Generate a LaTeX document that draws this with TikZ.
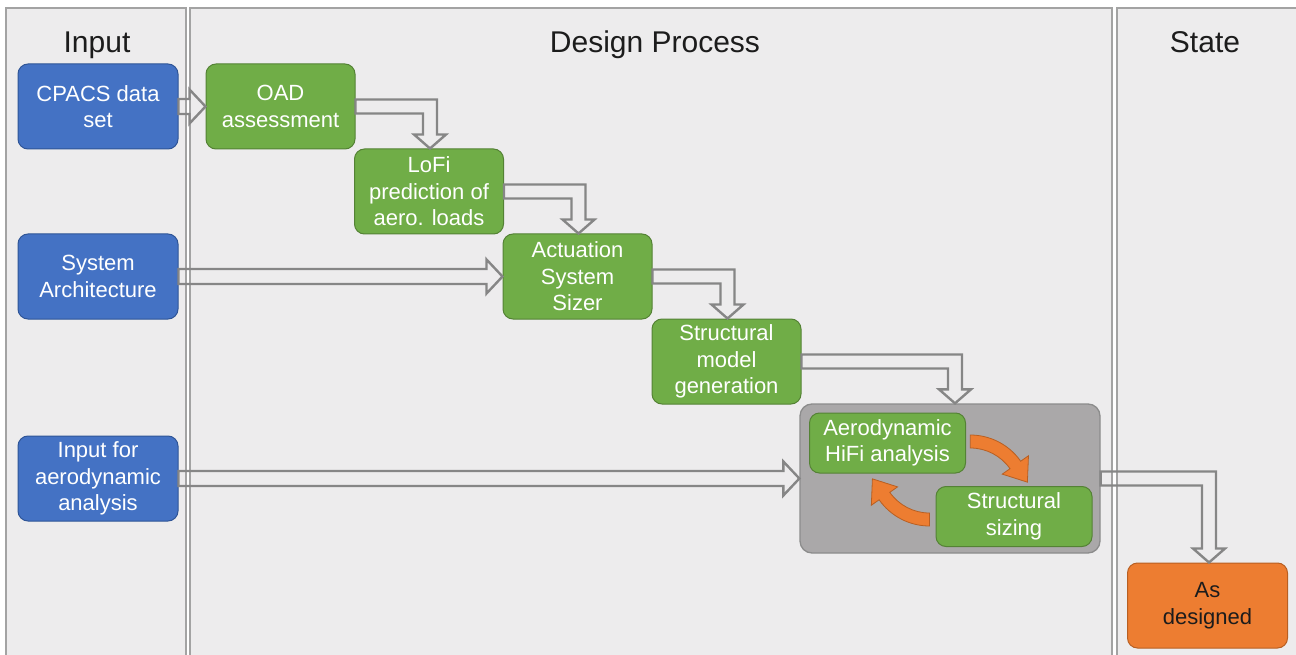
\documentclass[tikz,border=0pt]{standalone}
\usepackage{fontspec}
\setmainfont{Liberation Sans}
\usetikzlibrary{calc}

\definecolor{panelfill}{HTML}{EDECED}
\definecolor{panelline}{HTML}{A3A3A3}
\definecolor{inblue}{HTML}{4472C4}
\definecolor{inblueline}{HTML}{2F5597}
\definecolor{procgreen}{HTML}{70AD47}
\definecolor{procgreenline}{HTML}{548235}
\definecolor{stateorange}{HTML}{ED7D31}
\definecolor{stateorangeline}{HTML}{B85F22}
\definecolor{loopgray}{HTML}{AAA8A9}
\definecolor{looplinegray}{HTML}{8C8C8C}
\definecolor{flowgray}{HTML}{868686}
\definecolor{titleink}{HTML}{1C1C1C}

\tikzset{
  panel/.style={draw=panelline, line width=1.3pt, fill=panelfill},
  paneltitle/.style={anchor=base, text=titleink, font=\fontsize{30}{36}\selectfont},
  box/.style={rounded corners=10pt, align=center, inner sep=0pt,
    line width=1pt, font=\fontsize{22}{26.5}\selectfont},
  inputbox/.style={box, fill=inblue, draw=inblueline, text=white,
    minimum width=160pt, minimum height=85pt},
  procbox/.style={box, fill=procgreen, draw=procgreenline, text=white,
    minimum width=149pt, minimum height=85pt},
  innerbox/.style={box, fill=procgreen, draw=procgreenline, text=white,
    minimum width=156pt, minimum height=60pt},
  loopbox/.style={rounded corners=12pt, fill=loopgray, draw=looplinegray,
    line width=1.3pt, minimum width=300pt, minimum height=149pt},
  statebox/.style={box, fill=stateorange, draw=stateorangeline, text=titleink,
    minimum width=160pt, minimum height=85pt},
  flow/.style={draw=flowgray, line width=2.4pt, line join=miter},
  loopflow/.style={fill=stateorange, draw=stateorangeline, line width=0.8pt, line join=miter}
}

% hollow straight block arrow from the east side of #1 to the west side of #2
\newcommand{\straightflow}[2]{%
  \draw[flow] let \p1=(#1.east), \p2=(#2.west) in
    (\x1,\y1+7.5pt) -- (\x2-16pt,\y1+7.5pt) -- (\x2-16pt,\y1+17pt) -- (\x2,\y1)
    -- (\x2-16pt,\y1-17pt) -- (\x2-16pt,\y1-7.5pt) -- (\x1,\y1-7.5pt) -- cycle;}

% hollow bent block arrow: east side of #1, then down onto the top of #2 (x shift #3)
\newcommand{\bentflow}[3]{%
  \draw[flow] let \p1=(#1.east), \p2=($(#2.north)+(#3,0)$) in
    (\x1,\y1+7pt) -- (\x2+7pt,\y1+7pt) -- (\x2+7pt,\y2+14pt) -- (\x2+16pt,\y2+14pt)
    -- (\x2,\y2) -- (\x2-16pt,\y2+14pt) -- (\x2-7pt,\y2+14pt) -- (\x2-7pt,\y1-7pt)
    -- (\x1,\y1-7pt) -- cycle;}

% curved block arrow round centre #1, from angle #2 to angle #3, tip direction #4
\newcommand{\iterflow}[4]{%
  \draw[loopflow] ($(#1)+(#2:61.5)$) arc[start angle=#2, end angle=#3, radius=61.5]
    -- ($(#1)+(#3:71)$) -- ($(#1)+(#3:55)+(#4:21)$) -- ($(#1)+(#3:39)$)
    -- ($(#1)+(#3:48.5)$) arc[start angle=#3, end angle=#2, radius=48.5] -- cycle;}

\begin{document}
\begin{tikzpicture}[x=1pt, y=1pt]
  \useasboundingbox (0,0) rectangle (1296,-655);
  \clip (0,0) rectangle (1296,-655);
  \fill[white] (0,0) rectangle (1296,-655);

  % swim lanes
  \draw[panel] (6,-8) rectangle (186,-670);
  \draw[panel] (190,-8) rectangle (1112,-670);
  \draw[panel] (1117,-8) rectangle (1310,-670);
  \node[paneltitle] (tin)    at (97,-53)  {Input};
  \node[paneltitle] (tproc)  at (655,-53) {Design Process};
  \node[paneltitle] (tstate) at (1205,-53) {State};

  % inputs
  \node[inputbox] (cpacs)   at (98,-106.5) {CPACS data\\set};
  \node[inputbox] (sysarch) at (98,-276.5) {System\\Architecture};
  \node[inputbox] (aeroin)  at (98,-478.5) {Input for\\aerodynamic\\analysis};

  % design chain
  \node[procbox] (oad)  at (280.5,-106.5) {OAD\\assessment};
  \node[procbox] (lofi) at (429,-191.5)   {LoFi\\prediction of\\aero. loads};
  \node[procbox] (act)  at (577.5,-276.5) {Actuation\\System\\Sizer};
  \node[procbox] (smg)  at (726.5,-361.5) {Structural\\model\\generation};

  % aero-structural loop
  \node[loopbox] (loop) at (950,-478.5) {};
  \node[innerbox] (hifi)   at (887.5,-443)  {Aerodynamic\\HiFi analysis};
  \node[innerbox] (sizing) at (1014,-516.5) {Structural\\sizing};

  % result
  \node[statebox] (asdes) at (1207.5,-605.5) {As\\designed};

  % connectors
  \straightflow{cpacs}{oad}
  \straightflow{sysarch}{act}
  \straightflow{aeroin}{loop}
  \bentflow{oad}{lofi}{1}
  \bentflow{lofi}{act}{1}
  \bentflow{act}{smg}{1}
  \bentflow{smg}{loop}{5}
  \bentflow{loop}{asdes}{1.5}

  % iteration arrows inside the loop
  \coordinate (c1) at ($(hifi.east)+(4.3,-53.5)$);
  \coordinate (c2) at ($(sizing.west)+(-6,52)$);
  \iterflow{c1}{90}{35}{-55}
  \iterflow{c2}{270}{215}{125}
\end{tikzpicture}
\end{document}
